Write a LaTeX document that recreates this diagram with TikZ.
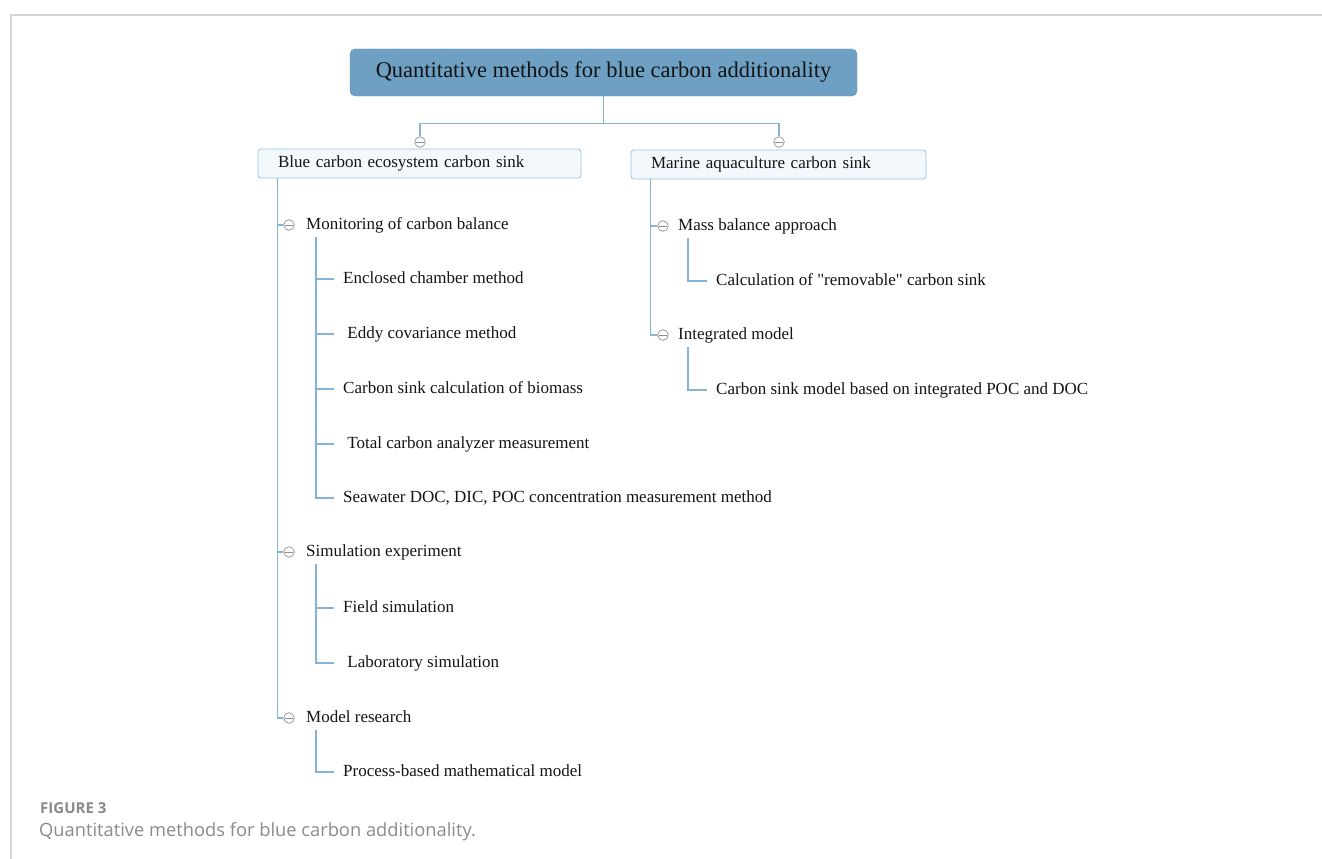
\documentclass[tikz,border=0pt]{standalone}
\usepackage{fontspec}
\setmainfont{Liberation Serif}
\newfontfamily\plainserif{Liberation Serif}
\newfontfamily\captionfont{Open Sans}
\usepackage{tikz}
\usepackage{xcolor}
\definecolor{titleblue}{HTML}{6EA0C4}
\definecolor{boxfill}{HTML}{F3F8FC}
\definecolor{boxline}{HTML}{9DC0DB}
\definecolor{linkblue}{HTML}{86B3D6}
\definecolor{foldgrey}{HTML}{8E8E8E}
\definecolor{ink}{HTML}{141414}
\definecolor{framegrey}{HTML}{D5D5D5}
\definecolor{capgrey}{HTML}{8A8A8A}
\newcommand{\straightquote}{{\plainserif"}}
\tikzset{
    title-box/.style = {draw=titleblue!92!black, fill=titleblue, rounded corners=5pt, minimum width=507pt, minimum height=47pt, inner sep=0pt, text=ink, font=\fontsize{22.5}{26}\selectfont},
    branch-box/.style = {draw=boxline, line width=0.8pt, fill=boxfill, rounded corners=3pt, minimum height=29pt, inner xsep=20pt, inner ysep=0pt, align=left, text=ink, font=\fontsize{17}{20}\selectfont},
    group-text/.style = {anchor=west, inner xsep=0pt, inner ysep=4pt, text height=12pt, text depth=4pt, text=ink, font=\fontsize{17}{20}\selectfont},
    leaf-text/.style = {anchor=west, inner xsep=9pt, inner ysep=0pt, text height=12pt, text depth=4pt, text=ink, font=\fontsize{17}{20}\selectfont},
    fold-mark/.style = {circle, draw=foldgrey, line width=0.7pt, fill=white, minimum size=10.5pt, inner sep=0pt, path picture={\draw[foldgrey, line width=0.7pt] ([xshift=0.8pt]path picture bounding box.west) -- ([xshift=-0.8pt]path picture bounding box.east);}},
    link/.style = {draw=linkblue, line width=1.1pt},
    frame-line/.style = {draw=framegrey, line width=2pt},
    caption-label/.style = {anchor=west, inner sep=0pt, text=capgrey, font=\captionfont\bfseries\fontsize{15}{18}\selectfont},
    caption-text/.style = {anchor=west, inner sep=0pt, text=capgrey, font=\captionfont\fontsize{18.3}{22}\selectfont},
}

\begin{document}
\begin{tikzpicture}[x=1pt, y=-1pt]
\useasboundingbox (0,0) rectangle (1322,859);
\draw[frame-line] (11,859) -- (11,15) -- (1322,15);

\node[title-box] (title) at (603.5,72.5) {Quantitative methods for blue carbon additionality};
\node[branch-box, text width=283pt] (eco-box) at (419.5,163.5) {Blue carbon ecosystem carbon sink};
\node[branch-box, text width=255pt] (mar-box) at (778.5,164.5) {Marine aquaculture carbon sink};
\node[fold-mark] (fold-eco) at (420,142) {};
\node[fold-mark] (fold-mar) at (779,142) {};

\node[fold-mark] (fold-mon) at (289,225) {};
\node[group-text] (mon) at (306,225) {Monitoring of carbon balance};
\node[leaf-text] (enc) at (334,279) {Enclosed chamber method};
\node[leaf-text] (eddy) at (334,334) {\ Eddy covariance method};
\node[leaf-text] (bio) at (334,389) {Carbon sink calculation of biomass};
\node[leaf-text] (tca) at (334,444) {\ Total carbon analyzer measurement};
\node[leaf-text] (sea) at (334,498) {Seawater DOC, DIC, POC concentration measurement method};
\node[fold-mark] (fold-sim) at (289,552) {};
\node[group-text] (sim) at (306,552) {Simulation experiment};
\node[leaf-text] (field) at (334,608) {Field simulation};
\node[leaf-text] (lab) at (334,663) {\ Laboratory simulation};
\node[fold-mark] (fold-mod) at (289,718) {};
\node[group-text] (mod) at (306,718) {Model research};
\node[leaf-text] (proc) at (334,772) {Process-based mathematical model};

\node[fold-mark] (fold-mass) at (663,226) {};
\node[group-text] (mass) at (678,226) {Mass balance approach};
\node[leaf-text] (calc) at (707,281) {Calculation of \straightquote removable\straightquote{} carbon sink};
\node[fold-mark] (fold-int) at (663,335) {};
\node[group-text] (int) at (678,335) {Integrated model};
\node[leaf-text] (poc) at (707,390) {Carbon sink model based on integrated POC and DOC};

\draw[link] (title.south) -- ++(0,27) -| (fold-eco.north);
\draw[link] (title.south) -- ++(0,27) -| (fold-mar.north);
\foreach \g in {mon,sim,mod}
    \draw[link] ([xshift=20pt]eco-box.south west) |- (fold-\g.west);
\foreach \l in {enc,eddy,bio,tca,sea}
    \draw[link] ([xshift=10pt]mon.south west) |- (\l.west);
\foreach \l in {field,lab}
    \draw[link] ([xshift=10pt]sim.south west) |- (\l.west);
\draw[link] ([xshift=10pt]mod.south west) |- (proc.west);
\foreach \g in {mass,int}
    \draw[link] ([xshift=20pt]mar-box.south west) |- (fold-\g.west);
\draw[link] ([xshift=10pt]mass.south west) |- (calc.west);
\draw[link] ([xshift=10pt]int.south west) |- (poc.west);

\node[caption-label] (fig-no) at (40,808) {FIGURE 3};
\node[caption-text] (fig-cap) at (39,832) {Quantitative methods for blue carbon additionality.};
\end{tikzpicture}
\end{document}
